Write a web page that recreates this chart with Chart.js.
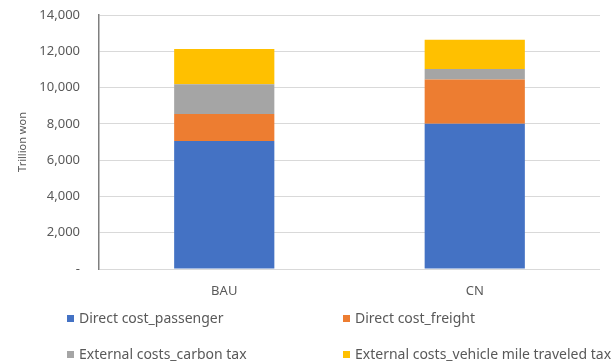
<!DOCTYPE html>
<html>
<head>
<meta charset="utf-8">
<script src="https://cdn.jsdelivr.net/npm/chart.js@4"></script>
<style>
  body { margin: 0; background: #fff; font-family: "Noto Sans", sans-serif; }
  #wrap { position: relative; width: 616px; height: 363px; }
  #legend { position: absolute; left: 0; top: 0; width: 616px; height: 363px; pointer-events: none; }
  .item { position: absolute; display: flex; align-items: center; font-size: 14px; color: #595959; white-space: nowrap; line-height: 16px; }
  .box { width: 7px; height: 7px; margin-right: 5px; }
</style>
</head>
<body>
<div id="wrap">
  <canvas id="costChart" width="616" height="363"></canvas>
  <div id="legend"></div>
</div>
<script>
const scenarios = ['BAU', 'CN'];
const seriesNames = [
    'Direct cost_passenger',
    'Direct cost_freight',
    'External costs_carbon tax',
    'External costs_vehicle mile traveled tax'
];
const passenger = [7050, 8000];
const freight = [1500, 2450];
const carbonTax = [1630, 580];
const vmtTax = [1950, 1610];
const seriesColors = ['#4472C4', '#ED7D31', '#A5A5A5', '#FFC000'];

const seriesValues = [passenger, freight, carbonTax, vmtTax];

const ctx = document.getElementById('costChart').getContext('2d');
const chart = new Chart(ctx, {
    type: 'bar',
    data: {
        labels: scenarios,
        datasets: seriesNames.map((name, i) => ({
            label: name,
            data: seriesValues[i],
            backgroundColor: seriesColors[i],
            categoryPercentage: 1,
            barPercentage: 0.4
        }))
    },
    options: {
        responsive: false,
        animation: false,
        layout: { padding: { top: 6, right: 16, left: 0, bottom: 0 } },
        plugins: {
            legend: { display: false },
            tooltip: { enabled: false }
        },
        scales: {
            x: {
                stacked: true,
                grid: { display: false },
                border: { display: false },
                ticks: { color: '#595959', font: { family: 'Noto Sans', size: 13 }, padding: 6 },
                afterFit: scale => { scale.height = 94; }
            },
            y: {
                stacked: true,
                min: 0,
                max: 14000,
                grid: { color: '#d9d9d9', lineWidth: 1, drawTicks: false },
                border: { display: true, color: '#7f7f7f', width: 1.5 },
                ticks: {
                    stepSize: 2000,
                    color: '#595959',
                    padding: 19,
                    font: { family: 'Noto Sans', size: 13 },
                    callback: v => v === 0 ? '-' : v.toLocaleString('en-US')
                },
                title: {
                    display: true,
                    text: 'Trillion won',
                    color: '#595959',
                    font: { family: 'Noto Sans', size: 11 },
                    padding: { top: 16, bottom: 0 }
                },
                // keep the tick padding from pushing the plot top down
                afterFit: scale => {
                    scale.width = 99;
                    scale.paddingTop = 15;
                    scale.paddingBottom = 0;
                }
            }
        }
    }
});

// two-column legend under the axis labels
const legendSpots = [
    { left: 67, top: 310 },
    { left: 343, top: 310 },
    { left: 67, top: 346 },
    { left: 343, top: 346 }
];
const legendEl = document.getElementById('legend');
chart.data.datasets.forEach((ds, i) => {
    const item = document.createElement('div');
    item.className = 'item';
    item.style.left = legendSpots[i].left + 'px';
    item.style.top = legendSpots[i].top + 'px';
    item.innerHTML = `<span class="box" style="background:${ds.backgroundColor}"></span>${ds.label}`;
    legendEl.appendChild(item);
});
</script>
</body>
</html>
